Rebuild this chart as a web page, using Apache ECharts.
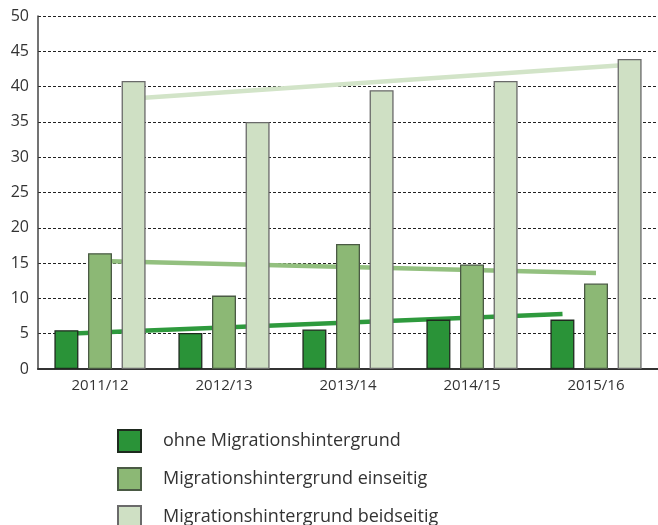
<!DOCTYPE html>
<html>
<head>
<meta charset="utf-8">
<script src="https://cdn.jsdelivr.net/npm/echarts@6/dist/echarts.min.js"></script>
<style>html,body{margin:0;padding:0;background:#fff}#c{width:658px;height:525px}</style>
</head>
<body>
<div id="c"></div>
<script>
const categories = ['2011/12', '2012/13', '2013/14', '2014/15', '2015/16'];
const seriesNames = ['ohne Migrationshintergrund', 'Migrationshintergrund einseitig', 'Migrationshintergrund beidseitig'];
const ohne = [5.5, 5.1, 5.6, 7.0, 7.0];
const einseitig = [16.4, 10.4, 17.7, 14.8, 12.1];
const beidseitig = [40.8, 35.0, 39.5, 40.8, 43.9];
// trend lines: value at first and last category
const trendOhne = [5.0, 7.8];
const trendEinseitig = [15.3, 13.6];
const trendBeidseitig = [38.3, 43.1];
const yTicks = [0, 50, 5];

const colors = ['#2a9338', '#8cb875', '#cfe0c4'];
const trendColors = ['#2e9a3d', '#93c07f', '#d2e4c8'];
const borders = ['#1e2a1e', '#4a5a44', '#6a6a6a'];

const gridW = 622, barW = 24, gapFrac = 0.4;
const band = gridW / categories.length;
const off = barW * (1 + gapFrac) / band;

const chart = echarts.init(document.getElementById('c'));
const barData = [ohne, einseitig, beidseitig];
const trends = [trendOhne, trendEinseitig, trendBeidseitig];
const series = [];
barData.forEach((d, i) => {
  series.push({
    name: seriesNames[i], type: 'bar', data: d, barWidth: barW, barGap: (gapFrac * 100) + '%',
    z: 3,
    itemStyle: { color: colors[i], borderColor: borders[i], borderWidth: 1.3 }
  });
});
trends.forEach((t, i) => {
  const o = (i - 1) * off;
  series.push({
    type: 'line', xAxisIndex: 1, z: 1, symbol: 'none', silent: true,
    data: [[0 + o, t[0]], [categories.length - 1 + o, t[1]]],
    lineStyle: { color: trendColors[i], width: 4.5 }
  });
});

const legends = seriesNames.map((n, i) => ({
  data: [n], orient: 'vertical', left: 117, top: 429 + i * 38,
  itemWidth: 23, itemHeight: 22, icon: 'rect', padding: 0,
  textStyle: { fontSize: 18, color: '#333', fontFamily: 'Open Sans', padding: [0, 0, 0, 17] }
}));

chart.setOption({
  animation: false,
  grid: { left: 38, top: 16, width: gridW, height: 353 },
  legend: legends,
  xAxis: [{
    type: 'category', data: categories,
    axisTick: { show: false },
    axisLine: { lineStyle: { color: '#333', width: 2 } },
    axisLabel: { fontSize: 15, color: '#333', fontFamily: 'Open Sans', margin: 9 }
  }, {
    type: 'value', min: -0.5, max: categories.length - 0.5, show: false
  }],
  yAxis: {
    type: 'value', min: yTicks[0], max: yTicks[1], interval: yTicks[2],
    axisLine: { show: true, onZero: false, lineStyle: { color: '#444', width: 1.5 } },
    axisTick: { show: false },
    axisLabel: { fontSize: 16, color: '#333', fontFamily: 'Open Sans', margin: 9 },
    splitLine: { lineStyle: { color: '#222', width: 1, type: [3, 2] } }
  },
  series: series
});
</script>
</body>
</html>
